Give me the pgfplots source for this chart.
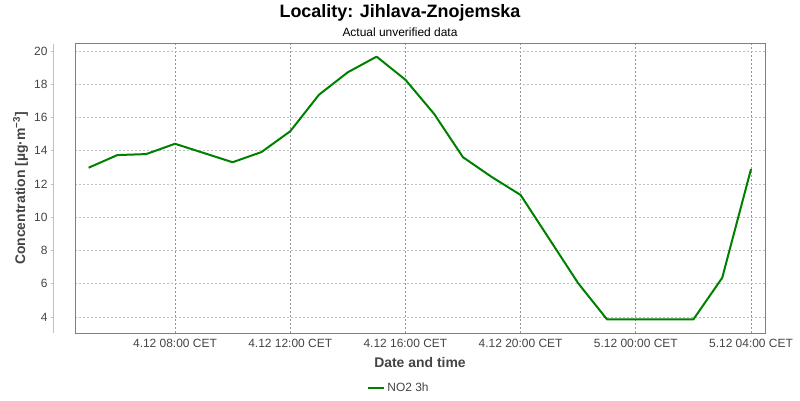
\documentclass[border=0pt]{standalone}
\usepackage{fontspec}
\setmainfont{Liberation Sans}
\usepackage{pgfplots}
\pgfplotsset{compat=1.18}
\definecolor{linegreen}{RGB}{0,128,0}
\definecolor{ticktext}{RGB}{68,68,68}
\definecolor{boxgray}{RGB}{128,128,128}
\definecolor{yaxisgray}{RGB}{192,192,192}
\definecolor{vgrid}{RGB}{150,150,150}
\definecolor{hgrid}{RGB}{192,192,192}
\begin{document}
\begin{tikzpicture}[x=1bp,y=1bp]
\useasboundingbox (0,0) rectangle (800,400);
\begin{axis}[
  at={(75bp,67bp)}, anchor=south west,
  scale only axis, width=690bp, height=289bp,
  xmin=4.528, xmax=28.486, ymin=3.04, ymax=20.42,
  xtick={8,12,16,20,24,28},
  xticklabels={4.12 08:00 CET,4.12 12:00 CET,4.12 16:00 CET,4.12 20:00 CET,5.12 00:00 CET,5.12 04:00 CET},
  ytick={4,6,...,20},
  /pgf/number format/assume math mode=true,
  grid=major,
  x grid style={vgrid, dash pattern=on 2bp off 2bp, line width=0.8bp},
  y grid style={hgrid, dash pattern=on 2bp off 2bp, line width=0.8bp},
  axis line style={boxgray, line width=1bp},
  tick label style={font=\fontsize{12}{14}\selectfont, text=ticktext},
  xtick style={draw=none},
  ytick pos=left,
  tick align=outside,
  major tick length=2bp,
  ytick style={yaxisgray, xshift=-22bp, line width=0.8bp},
  yticklabel style={xshift=-22bp},
  xticklabel style={yshift=-1bp},
  legend style={at={(0.4696,-0.19)}, anchor=center, draw=none, fill=none,
    font=\fontsize{12}{14}\selectfont, text=ticktext, inner sep=0pt},
  legend image code/.code={\draw[#1] (0bp,0bp) -- (16bp,0bp);},
  clip=false,
]
\addplot[linegreen, line width=2bp, line join=round] coordinates {
(5,12.98) (6,13.74) (7,13.80) (8,14.42) (10,13.31) (11,13.92) (12,15.17)
(13,17.37) (14,18.72) (15,19.66) (16,18.27) (17,16.21) (18,13.61) (19,12.42)
(20,11.34) (22,6.03) (23,3.86) (24,3.86) (25,3.86) (26,3.86) (27,6.36) (28,12.9)
};
\addlegendentry{NO2 3h}
\draw[yaxisgray, line width=1bp] ([xshift=-22bp]rel axis cs:0,0) -- ([xshift=-22bp]rel axis cs:0,1);
\end{axis}
\node[anchor=base, font=\bfseries\fontsize{18}{20}\selectfont] at (400,383) {Locality: Jihlava-Znojemska};
\node[anchor=base, font=\fontsize{12}{14}\selectfont] at (400,364) {Actual unverified data};
\node[anchor=base, font=\bfseries\fontsize{14}{16}\selectfont, text=ticktext] at (420,33) {Date and time};
\node[anchor=base, rotate=90, font=\bfseries\fontsize{14}{16}\selectfont, text=ticktext] at (25,211.5) {Concentration [µg·m\textsuperscript{−3}]};
\end{tikzpicture}
\end{document}
